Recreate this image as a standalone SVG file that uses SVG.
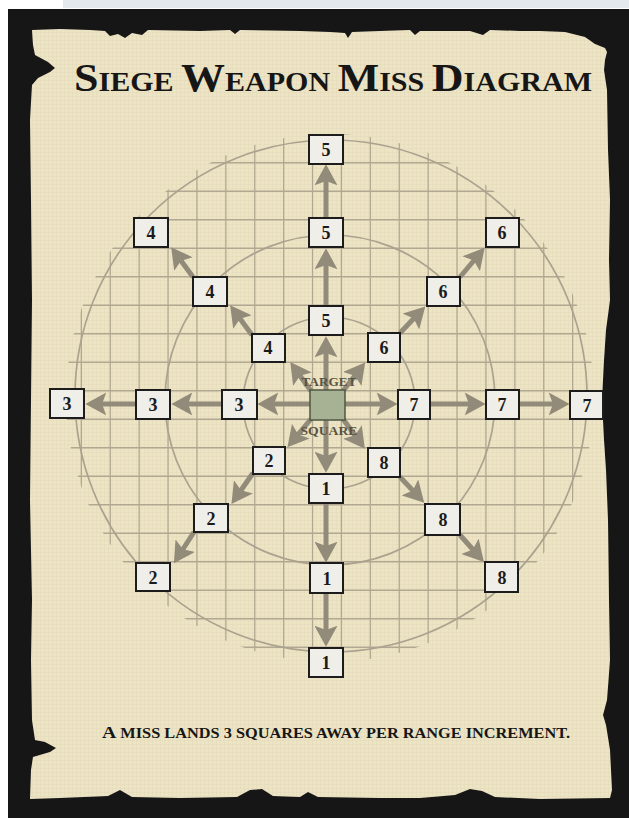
<svg xmlns="http://www.w3.org/2000/svg" width="629" height="818" viewBox="0 0 629 818">
<style>
.grid{stroke:#b0a891;stroke-width:1.3;fill:none}
.ring{stroke:#aaa28f;stroke-width:1.7;fill:none}
.arr{stroke:#928b79;stroke-width:5;fill:none;marker-end:url(#head)}
.box rect{fill:#efeee8;stroke:#1c1c1c;stroke-width:2}
.box text{font-family:"Liberation Serif",serif;font-weight:bold;font-size:18px;fill:#1a1a1a;text-anchor:middle}
.lbl{font-family:"Liberation Serif",serif;font-weight:bold;font-size:13px;fill:#5a5342;text-anchor:middle}
.title{font-family:"Liberation Serif",serif;font-weight:bold;fill:#161616}
</style>
<defs>
<marker id="head" viewBox="0 0 20 22" refX="6" refY="11" markerWidth="21" markerHeight="23" markerUnits="userSpaceOnUse" orient="auto">
<path d="M0,0 L20,11 L0,22 L4,11 Z" fill="#928b79"/>
</marker>
<pattern id="paper" width="4" height="4" patternUnits="userSpaceOnUse">
<path d="M0,0 V4 M0,0 H4" stroke="#c9bd98" stroke-width="0.8" opacity="0.35"/>
</pattern>
<clipPath id="gclip"><circle cx="330" cy="398" r="264"/></clipPath>
</defs>
<rect x="0" y="0" width="629" height="818" fill="#ffffff"/>
<rect x="63" y="0" width="566" height="8" fill="#e4e9ee"/>
<rect x="8" y="9" width="621" height="809" fill="#161616"/>
<g id="parchment">
<path id="pp" d="M32,30 L60,29 L90,30 L105,31 L110,36 L118,34 L125,38 L132,33 L142,35 L148,30 L200,31 L230,30 L235,34 L240,30 L300,31 L330,32 L345,33 L348,38 L352,32 L380,31 L410,30 L415,35 L420,31 L470,31 L483,35 L490,30 L520,31 L540,31 L565,32 L585,37 L595,44 L605,48 L607,52 L605,60 L604,70 L607,90 L608,150 L610,200 L609,260 L610,300 L606,330 L604,360 L602,400 L604,440 L606,470 L608,520 L609,600 L610,660 L607,700 L603,715 L606,725 L610,750 L612,790 L610,798 L540,799 L495,797 L482,791 L470,789 L455,795 L420,798 L380,798 L318,797 L308,792 L300,797 L273,796 L262,789 L250,790 L237,797 L180,798 L132,797 L120,790 L108,796 L60,798 L30,799 L31,770 L33,757 L50,752 L56,748 L45,742 L35,740 L32,720 L31,660 L32,600 L30,500 L31,400 L32,300 L31,200 L30,120 L32,85 L38,78 L50,72 L55,68 L48,62 L35,55 L33,45 Z" fill="#ede4c5"/>
<path d="M32,30 L60,29 L90,30 L105,31 L110,36 L118,34 L125,38 L132,33 L142,35 L148,30 L200,31 L230,30 L235,34 L240,30 L300,31 L330,32 L345,33 L348,38 L352,32 L380,31 L410,30 L415,35 L420,31 L470,31 L483,35 L490,30 L520,31 L540,31 L565,32 L585,37 L595,44 L605,48 L607,52 L605,60 L604,70 L607,90 L608,150 L610,200 L609,260 L610,300 L606,330 L604,360 L602,400 L604,440 L606,470 L608,520 L609,600 L610,660 L607,700 L603,715 L606,725 L610,750 L612,790 L610,798 L540,799 L495,797 L482,791 L470,789 L455,795 L420,798 L380,798 L318,797 L308,792 L300,797 L273,796 L262,789 L250,790 L237,797 L180,798 L132,797 L120,790 L108,796 L60,798 L30,799 L31,770 L33,757 L50,752 L56,748 L45,742 L35,740 L32,720 L31,660 L32,600 L30,500 L31,400 L32,300 L31,200 L30,120 L32,85 L38,78 L50,72 L55,68 L48,62 L35,55 L33,45 Z" fill="url(#paper)"/>
</g>
<g id="title">
<text class="title" x="333" y="91" text-anchor="middle" textLength="518" lengthAdjust="spacingAndGlyphs"><tspan font-size="41">S</tspan><tspan font-size="28">IEGE </tspan><tspan font-size="41">W</tspan><tspan font-size="28">EAPON </tspan><tspan font-size="41">M</tspan><tspan font-size="28">ISS </tspan><tspan font-size="41">D</tspan><tspan font-size="28">IAGRAM</tspan></text>
</g>
<g id="grid" clip-path="url(#gclip)">
<path class="grid" d="M52.45,120V690 M81.35,120V690 M110.25,120V690 M139.15,120V690 M168.05,120V690 M196.95,120V690 M225.85,120V690 M254.75,120V690 M283.65,120V690 M312.55,120V690 M341.45,120V690 M370.35,120V690 M399.25,120V690 M428.15,120V690 M457.05,120V690 M485.95,120V690 M514.85,120V690 M543.75,120V690 M572.65,120V690 M601.55,120V690 M50,134.25H612 M50,162.75H612 M50,191.25H612 M50,219.75H612 M50,248.25H612 M50,276.75H612 M50,305.25H612 M50,333.75H612 M50,362.25H612 M50,390.75H612 M50,419.25H612 M50,447.75H612 M50,476.25H612 M50,504.75H612 M50,533.25H612 M50,561.75H612 M50,590.25H612 M50,618.75H612 M50,647.25H612 M50,675.75H612"/>
</g>
<g id="rings">
<circle class="ring" cx="331" cy="396" r="256"/>
<circle class="ring" cx="330" cy="400" r="165"/>
<circle class="ring" cx="329" cy="403" r="86"/>
</g>
<g id="connectors">
<line class="arr" x1="310" y1="404" x2="272" y2="404"/>
<line class="arr" x1="222" y1="404" x2="186" y2="404"/>
<line class="arr" x1="136" y1="404" x2="100" y2="404"/>
<line class="arr" x1="345" y1="404" x2="383" y2="404"/>
<line class="arr" x1="430" y1="404" x2="471" y2="404"/>
<line class="arr" x1="518" y1="404" x2="555" y2="404"/>
<line class="arr" x1="326" y1="390" x2="326" y2="351"/>
<line class="arr" x1="326" y1="305" x2="326" y2="263"/>
<line class="arr" x1="326" y1="218" x2="326" y2="179"/>
<line class="arr" x1="326" y1="420" x2="326" y2="458"/>
<line class="arr" x1="326" y1="503" x2="326" y2="548"/>
<line class="arr" x1="326" y1="593" x2="326" y2="632"/>
<line class="arr" x1="311" y1="391" x2="298.8" y2="374"/>
<line class="arr" x1="252" y1="335" x2="238.8" y2="317"/>
<line class="arr" x1="193" y1="277" x2="179.8" y2="259"/>
<line class="arr" x1="343" y1="391" x2="356.2" y2="374"/>
<line class="arr" x1="400" y1="333" x2="415.2" y2="317"/>
<line class="arr" x1="460" y1="277" x2="475.2" y2="259"/>
<line class="arr" x1="311" y1="419" x2="296.8" y2="436"/>
<line class="arr" x1="253" y1="473" x2="239.8" y2="492"/>
<line class="arr" x1="194" y1="532" x2="181.8" y2="551"/>
<line class="arr" x1="343" y1="419" x2="356.2" y2="437"/>
<line class="arr" x1="400" y1="477" x2="414.2" y2="492"/>
<line class="arr" x1="460" y1="535" x2="474.2" y2="551"/>
</g>
<g id="target">
<rect x="310" y="390" width="35" height="30" fill="#a7b294" stroke="#4f5742" stroke-width="1.5"/>
<text class="lbl" x="329" y="386" textLength="55" lengthAdjust="spacingAndGlyphs">TARGET</text>
<text class="lbl" x="329" y="435" textLength="57" lengthAdjust="spacingAndGlyphs">SQUARE</text>
</g>
<g id="n5a" class="box"><rect x="309" y="135" width="34" height="29"/><text x="326" y="156">5</text></g>
<g id="n5b" class="box"><rect x="309" y="218" width="34" height="29"/><text x="326" y="239">5</text></g>
<g id="n5c" class="box"><rect x="309" y="306" width="34" height="29"/><text x="326" y="327">5</text></g>
<g id="n4a" class="box"><rect x="134" y="218" width="34" height="29"/><text x="151" y="239">4</text></g>
<g id="n4b" class="box"><rect x="193" y="277" width="34" height="29"/><text x="210" y="298">4</text></g>
<g id="n4c" class="box"><rect x="252" y="334" width="33" height="28"/><text x="268" y="354">4</text></g>
<g id="n6a" class="box"><rect x="486" y="218" width="33" height="29"/><text x="502" y="239">6</text></g>
<g id="n6b" class="box"><rect x="427" y="277" width="33" height="29"/><text x="443" y="298">6</text></g>
<g id="n6c" class="box"><rect x="368" y="333" width="32" height="29"/><text x="384" y="354">6</text></g>
<g id="n3a" class="box"><rect x="50" y="389" width="34" height="29"/><text x="67" y="410">3</text></g>
<g id="n3b" class="box"><rect x="136" y="390" width="34" height="29"/><text x="153" y="411">3</text></g>
<g id="n3c" class="box"><rect x="222" y="390" width="35" height="29"/><text x="239" y="411">3</text></g>
<g id="n7a" class="box"><rect x="398" y="390" width="32" height="29"/><text x="414" y="411">7</text></g>
<g id="n7b" class="box"><rect x="486" y="390" width="33" height="29"/><text x="502" y="411">7</text></g>
<g id="n7c" class="box"><rect x="570" y="391" width="33" height="28"/><text x="587" y="412">7</text></g>
<g id="n2a" class="box"><rect x="253" y="447" width="32" height="27"/><text x="269" y="467">2</text></g>
<g id="n2b" class="box"><rect x="194" y="504" width="34" height="28"/><text x="211" y="525">2</text></g>
<g id="n2c" class="box"><rect x="136" y="563" width="34" height="28"/><text x="153" y="584">2</text></g>
<g id="n8a" class="box"><rect x="368" y="448" width="32" height="29"/><text x="384" y="469">8</text></g>
<g id="n8b" class="box"><rect x="425" y="504" width="35" height="31"/><text x="443" y="526">8</text></g>
<g id="n8c" class="box"><rect x="485" y="562" width="33" height="30"/><text x="502" y="584">8</text></g>
<g id="n1a" class="box"><rect x="309" y="474" width="34" height="29"/><text x="326" y="495">1</text></g>
<g id="n1b" class="box"><rect x="310" y="563" width="33" height="30"/><text x="327" y="585">1</text></g>
<g id="n1c" class="box"><rect x="309" y="648" width="34" height="29"/><text x="326" y="669">1</text></g>
<g id="caption">
<text class="title" x="102" y="738" textLength="468" lengthAdjust="spacingAndGlyphs"><tspan font-size="17">A</tspan><tspan font-size="14"> MISS LANDS 3 SQUARES AWAY PER RANGE INCREMENT.</tspan></text>
</g>
</svg>
